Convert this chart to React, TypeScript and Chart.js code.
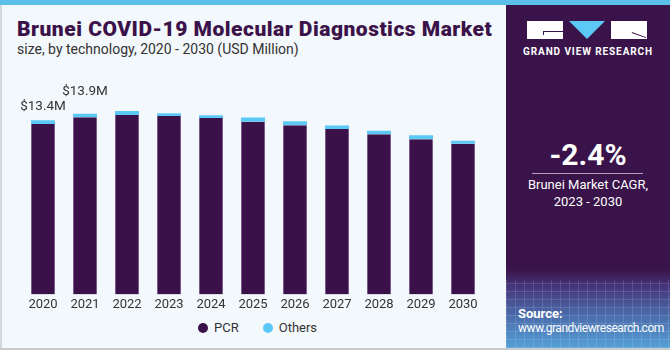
import React, { useEffect, useRef } from "react";
import { Chart, registerables } from "chart.js";

Chart.register(...registerables);

const years = ["2020", "2021", "2022", "2023", "2024", "2025", "2026", "2027", "2028", "2029", "2030"];
const pcr = [13.11, 13.63, 13.81, 13.73, 13.58, 13.28, 13.01, 12.73, 12.32, 11.93, 11.6];
const others = [0.29, 0.27, 0.31, 0.21, 0.21, 0.33, 0.31, 0.26, 0.28, 0.31, 0.23];
const valueLabels = ["$13.4M", "$13.9M"];
const labelOffsets = [14, 22];

const PURPLE = "#3a1148";
const BLUE = "#5bc8f5";
const FONT = "Roboto, 'Liberation Sans', sans-serif";

function BarChart() {
  const ref = useRef<HTMLCanvasElement | null>(null);
  useEffect(() => {
    if (!ref.current) return;
    const labelPlugin = {
      id: "valueLabels",
      afterDatasetsDraw(chart: any) {
        const ctx = chart.ctx;
        const meta = chart.getDatasetMeta(1);
        ctx.save();
        ctx.font = `13.5px ${FONT}`;
        ctx.fillStyle = "#333333";
        ctx.textAlign = "center";
        ctx.textBaseline = "middle";
        valueLabels.forEach((t, i) => {
          const el = meta.data[i];
          ctx.fillText(t, el.x, el.y - labelOffsets[i]);
        });
        ctx.restore();
      },
    };
    const chart = new Chart(ref.current, {
      type: "bar",
      data: {
        labels: years,
        datasets: [
          {
            label: "PCR",
            data: pcr,
            backgroundColor: PURPLE,
            borderColor: "#7a5a8a",
            borderWidth: { left: 1, right: 1, top: 0, bottom: 0 },
            borderSkipped: false,
            categoryPercentage: 24 / 42,
            barPercentage: 1,
          },
          {
            label: "Others",
            data: others,
            backgroundColor: BLUE,
            borderWidth: 0,
            categoryPercentage: 24 / 42,
            barPercentage: 1,
          },
        ],
      },
      options: {
        animation: false,
        responsive: false,
        maintainAspectRatio: false,
        layout: { padding: { left: 22, right: 21, top: 0, bottom: 0 } },
        plugins: { legend: { display: false }, tooltip: { enabled: false } },
        scales: {
          x: {
            stacked: true,
            grid: { display: false, drawTicks: false },
            border: { display: false },
            ticks: { color: "#333333", font: { family: FONT, size: 13 }, padding: 3, maxRotation: 0 },
          },
          y: {
            stacked: true,
            display: false,
            min: 0,
            max: 18.5,
          },
        },
      },
      plugins: [labelPlugin],
    });
    return () => chart.destroy();
  }, []);
  return (
    <canvas
      ref={ref}
      width={505}
      height={262}
      style={{ position: "absolute", left: 0, top: 54, width: 505, height: 262 }}
    />
  );
}

export default function App() {
  return (
    <div
      style={{
        position: "fixed",
        left: 0,
        top: 0,
        width: 670,
        height: 350,
        background: "#f3f8fc",
        overflow: "hidden",
        fontFamily: FONT,
      }}
    >
      <div style={{ position: "absolute", left: 0, top: 0, width: 670, height: 5, background: "#5bc0e8" }} />
      <div style={{ position: "absolute", left: 0, top: 5, width: 2, height: 345, background: "#d4d8dc" }} />
      <div style={{ position: "absolute", left: 0, top: 348, width: 670, height: 2, background: "#c8cbce" }} />
      <div
        style={{
          position: "absolute",
          left: 17,
          top: 16,
          fontSize: 21,
          fontWeight: 900,
          letterSpacing: 0.5,
          color: "#3b1249",
          whiteSpace: "nowrap",
          lineHeight: "26px",
        }}
      >
        Brunei COVID-19 Molecular Diagnostics Market
      </div>
      <div
        style={{
          position: "absolute",
          left: 17,
          top: 40,
          fontSize: 14,
          color: "#333333",
          whiteSpace: "nowrap",
          lineHeight: "18px",
        }}
      >
        size, by technology, 2020 - 2030 (USD Million)
      </div>
      <BarChart />
      <div style={{ position: "absolute", left: 198, top: 320, display: "flex", alignItems: "center", fontSize: 13, color: "#333" }}>
        <span style={{ width: 10, height: 10, borderRadius: 5, background: PURPLE, display: "inline-block" }} />
        <span style={{ marginLeft: 6 }}>PCR</span>
        <span style={{ width: 10, height: 10, borderRadius: 5, background: BLUE, display: "inline-block", marginLeft: 24 }} />
        <span style={{ marginLeft: 6 }}>Others</span>
      </div>
      {/* right panel */}
      <div
        style={{
          position: "absolute",
          left: 506,
          top: 5,
          width: 164,
          height: 343,
          background: "linear-gradient(180deg, #391349 0%, #391349 77%, #45357a 82%, #4a68a8 90%, #55a0d8 100%)",
        }}
      >
        <div
          style={{
            position: "absolute",
            left: 0,
            top: 275,
            width: 164,
            height: 68,
            backgroundImage:
              "repeating-linear-gradient(90deg, rgba(255,255,255,0.12) 0 1px, transparent 1px 9px), repeating-linear-gradient(0deg, rgba(255,255,255,0.12) 0 1px, transparent 1px 8px)",
          }}
        />
        {/* logo */}
        <div style={{ position: "absolute", left: 21, top: 16, width: 36, height: 18, background: "#ffffff" }} />
        <div style={{ position: "absolute", left: 37, top: 26, width: 20, height: 1, background: "#391349" }} />
        <div style={{ position: "absolute", left: 37, top: 26, width: 1, height: 4, background: "#391349" }} />
        <div
          style={{
            position: "absolute",
            left: 63,
            top: 16,
            width: 0,
            height: 0,
            borderLeft: "18px solid transparent",
            borderRight: "18px solid transparent",
            borderTop: "18px solid #5bc8f5",
          }}
        />
        <div style={{ position: "absolute", left: 105, top: 16, width: 36, height: 18, background: "#ffffff" }} />
        <div
          style={{
            position: "absolute",
            left: 126,
            top: 27,
            width: 15,
            height: 1,
            background: "#391349",
            transform: "rotate(20deg)",
            transformOrigin: "0 0",
          }}
        />
        <div
          style={{
            position: "absolute",
            left: 0,
            top: 41,
            width: 164,
            textAlign: "center",
            color: "#ffffff",
            fontSize: 10,
            fontWeight: 700,
            letterSpacing: 0.9,
            whiteSpace: "nowrap",
          }}
        >
          GRAND VIEW RESEARCH
        </div>
        <div
          style={{
            position: "absolute",
            left: 0,
            top: 132,
            width: 164,
            textAlign: "center",
            color: "#ffffff",
            fontSize: 30,
            fontWeight: 700,
            lineHeight: "36px",
          }}
        >
          -2.4%
        </div>
        <div style={{ position: "absolute", left: 26, top: 168, width: 111, height: 1, background: "rgba(255,255,255,0.6)" }} />
        <div
          style={{
            position: "absolute",
            left: 0,
            top: 171,
            width: 164,
            textAlign: "center",
            color: "#ffffff",
            fontSize: 13,
            lineHeight: "17px",
          }}
        >
          Brunei Market CAGR,
          <br />
          2023 - 2030
        </div>
        <div
          style={{
            position: "absolute",
            left: 12,
            top: 302,
            color: "#ffffff",
            fontSize: 12,
            lineHeight: "14px",
            whiteSpace: "nowrap",
          }}
        >
          <div style={{ fontWeight: 700, fontSize: 13 }}>Source:</div>
          <div style={{ letterSpacing: -0.45 }}>www.grandviewresearch.com</div>
        </div>
      </div>
    </div>
  );
}
